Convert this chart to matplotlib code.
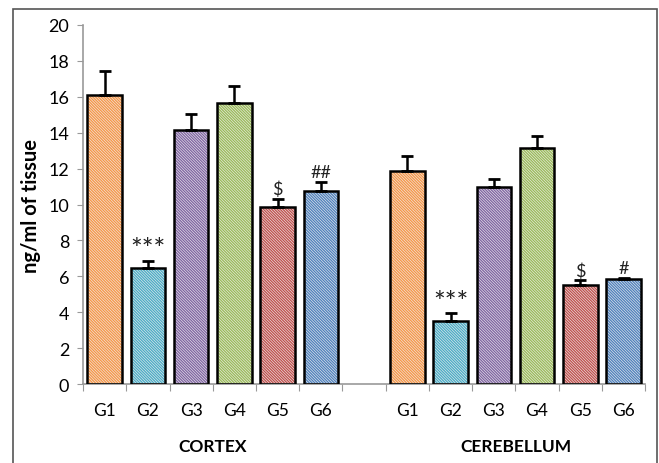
import numpy as np
import matplotlib.pyplot as plt
from matplotlib.patches import Rectangle

plt.rcParams['font.family'] = ['Lato', 'DejaVu Sans']
plt.rcParams['hatch.linewidth'] = 0.45

groups = ['G1', 'G2', 'G3', 'G4', 'G5', 'G6']
regions = ['CORTEX', 'CEREBELLUM']
cortex = [16.1, 6.45, 14.15, 15.68, 9.85, 10.77]
cortex_err = [1.33, 0.42, 0.92, 0.9, 0.46, 0.5]
cerebellum = [11.88, 3.52, 10.95, 13.13, 5.53, 5.85]
cerebellum_err = [0.8, 0.43, 0.47, 0.68, 0.25, 0.08]
cortex_marks = ['', '***', '', '', '$', '##']
cerebellum_marks = ['', '***', '', '', '$', '#']
colors = ['#F79646', '#4BACC6', '#8064A2', '#9BBB59', '#C0504D', '#4F81BD']

fig = plt.figure(figsize=(6.59, 4.64), dpi=100)
# frame around the whole figure
fig.patches.append(Rectangle((0.02, -0.05), 0.977, 1.029, transform=fig.transFigure,
                             fill=False, edgecolor='#555555', linewidth=1.2))
ax = fig.add_axes([0.126, 0.170, 0.853, 0.774])

x_cortex = np.arange(6)
x_cereb = np.arange(6) + 7
width = 0.8

for xs, vals, errs, marks in [(x_cortex, cortex, cortex_err, cortex_marks),
                              (x_cereb, cerebellum, cerebellum_err, cerebellum_marks)]:
    ax.bar(xs, vals, width, color=colors, edgecolor='#eeeeee', hatch='\\' * 12, linewidth=0, zorder=2)
    ax.bar(xs, vals, width, fill=False, edgecolor='black', linewidth=1.8, zorder=3)
    ax.errorbar(xs, vals, yerr=[np.zeros(6), errs], fmt='none', ecolor='black',
                elinewidth=1.8, capsize=4.5, capthick=2, zorder=4)
    for x, v, e, m in zip(xs, vals, errs, marks):
        if m:
            fs = 20 if m == '***' else 13
            off = -0.15 if m == '***' else 0.1
            ax.text(x, v + e + off, m, ha='center', va='bottom', fontsize=fs, color='#222222')

ax.set_xlim(-0.5, 12.5)
ax.set_ylim(0, 20)
ax.set_yticks(np.arange(0, 21, 2))
ax.tick_params(axis='y', labelsize=13, direction='out', length=4, color='#999999', pad=6)

ax.set_xticks(np.arange(-0.5, 13, 1))
ax.set_xticklabels([])
ax.set_xticks(list(x_cortex) + list(x_cereb), minor=True)
ax.set_xticklabels(groups + groups, minor=True)
ax.tick_params(axis='x', which='major', direction='out', length=5, color='#999999')
ax.tick_params(axis='x', which='minor', length=0, labelsize=12.5, pad=13)

for s in ['top', 'right']:
    ax.spines[s].set_visible(False)
for s in ['left', 'bottom']:
    ax.spines[s].set_color('#999999')
    ax.spines[s].set_linewidth(1.2)

ax.set_ylabel('ng/ml of tissue', fontsize=14.5, fontweight='bold', labelpad=5)
ax.text(2.5, -0.173, regions[0], transform=ax.get_xaxis_transform(), ha='center', va='center',
        fontsize=12.5, fontweight='bold')
ax.text(9.5, -0.173, regions[1], transform=ax.get_xaxis_transform(), ha='center', va='center',
        fontsize=12.5, fontweight='bold')

fig.savefig('out.png', dpi=100)
